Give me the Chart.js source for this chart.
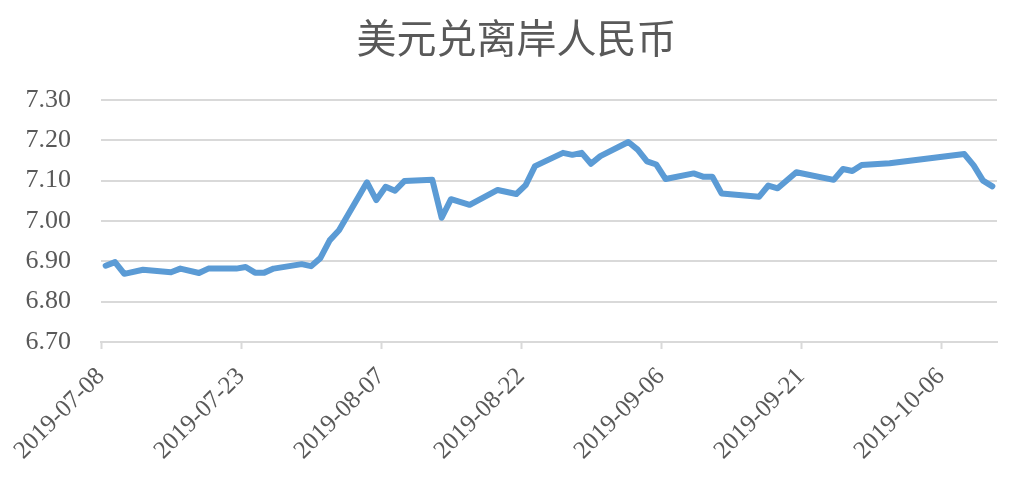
<!DOCTYPE html>
<html>
<head>
<meta charset="utf-8">
<script src="https://cdn.jsdelivr.net/npm/chart.js"></script>
<style>
  html, body { margin: 0; padding: 0; background: #fff; }
  #chart { display: block; }
</style>
</head>
<body>
<canvas id="chart" width="1011" height="480"></canvas>
<script>
// Chart data
const titleText = '美元兑离岸人民币';
const startDate = '2019-07-08';
const endDate = '2019-10-11';
const tickLabels = ['2019-07-08', '2019-07-23', '2019-08-07', '2019-08-22', '2019-09-06', '2019-09-21', '2019-10-06'];
const yTicks = [6.70, 6.80, 6.90, 7.00, 7.10, 7.20, 7.30];

const dates = [
    '2019-07-08', '2019-07-09', '2019-07-10', '2019-07-12', '2019-07-15', '2019-07-16',
    '2019-07-18', '2019-07-19', '2019-07-22', '2019-07-23', '2019-07-24', '2019-07-25',
    '2019-07-26', '2019-07-29', '2019-07-30', '2019-07-31', '2019-08-01', '2019-08-02',
    '2019-08-05', '2019-08-06', '2019-08-07', '2019-08-08', '2019-08-09', '2019-08-12',
    '2019-08-13', '2019-08-14', '2019-08-16', '2019-08-19', '2019-08-21', '2019-08-22',
    '2019-08-23', '2019-08-26', '2019-08-27', '2019-08-28', '2019-08-29', '2019-08-30',
    '2019-09-02', '2019-09-03', '2019-09-04', '2019-09-05', '2019-09-06', '2019-09-09',
    '2019-09-10', '2019-09-11', '2019-09-12', '2019-09-16', '2019-09-17', '2019-09-18',
    '2019-09-20', '2019-09-24', '2019-09-25', '2019-09-26', '2019-09-27', '2019-09-30',
    '2019-10-08', '2019-10-09', '2019-10-10', '2019-10-11'
];
const rates = [
    6.889, 6.898, 6.869, 6.879, 6.873, 6.882,
    6.871, 6.882, 6.882, 6.886, 6.872, 6.872,
    6.882, 6.893, 6.888, 6.908, 6.952, 6.977,
    7.096, 7.052, 7.085, 7.075, 7.099, 7.102,
    7.008, 7.054, 7.040, 7.077, 7.067, 7.089,
    7.136, 7.169, 7.164, 7.169, 7.142, 7.161,
    7.196, 7.177, 7.148, 7.140, 7.104, 7.118,
    7.110, 7.110, 7.068, 7.060, 7.088, 7.081,
    7.121, 7.102, 7.129, 7.124, 7.139, 7.143,
    7.166, 7.138, 7.100, 7.086
];

// Day index from the first date
function dayIndex(s) {
    return Math.round((Date.parse(s) - Date.parse(startDate)) / 86400000);
}

const points = dates.map((d, i) => ({ x: dayIndex(d), y: rates[i] }));
const lastDay = dayIndex(endDate);
const tickPositions = tickLabels.map(t => dayIndex(t) - 0.5);

const textColor = '#595959';
const gridColor = '#d9d9d9';
const serif = '"Liberation Serif", "Times New Roman", serif';

// nudge the title a little right, like the original
const titleShift = {
    id: 'titleShift',
    afterLayout(chart) {
        if (chart.titleBlock) chart.titleBlock.left += 36;
    }
};

new Chart(document.getElementById('chart'), {
    type: 'line',
    data: {
        datasets: [{
            data: points,
            borderColor: '#5b9bd5',
            borderWidth: 6,
            pointRadius: 0,
            tension: 0,
            fill: false,
            borderJoinStyle: 'round',
            borderCapStyle: 'round'
        }]
    },
    plugins: [titleShift],
    options: {
        responsive: false,
        animation: false,
        layout: { padding: { left: 0, right: 14, top: 0, bottom: 0 } },
        plugins: {
            legend: { display: false },
            tooltip: { enabled: false },
            title: {
                display: true,
                text: titleText,
                color: textColor,
                font: { family: '"Noto Sans CJK SC", sans-serif', size: 40, weight: 'normal' },
                padding: { top: 14, bottom: 38 }
            }
        },
        scales: {
            x: {
                type: 'linear',
                min: -0.5,
                max: lastDay + 0.5,
                afterBuildTicks: axis => {
                    axis.ticks = tickPositions.map(v => ({ value: v }));
                },
                afterFit: axis => { axis.height = 138; },
                ticks: {
                    autoSkip: false,
                    maxRotation: 45,
                    minRotation: 45,
                    color: textColor,
                    font: { family: serif, size: 25 },
                    padding: 13,
                    callback: (value, i) => tickLabels[i]
                },
                grid: {
                    display: true,
                    drawOnChartArea: false,
                    drawTicks: true,
                    tickLength: 7,
                    tickWidth: 2,
                    tickColor: gridColor
                },
                border: { display: true, color: gridColor, width: 2 }
            },
            y: {
                min: 6.70,
                max: 7.30,
                afterBuildTicks: axis => {
                    axis.ticks = yTicks.map(v => ({ value: v }));
                },
                afterFit: axis => { axis.width = 101; },
                ticks: {
                    color: textColor,
                    font: { family: serif, size: 26 },
                    padding: 30,
                    callback: v => v.toFixed(2)
                },
                grid: {
                    color: gridColor,
                    lineWidth: 2,
                    drawTicks: false
                },
                border: { display: false }
            }
        }
    }
});
</script>
</body>
</html>
